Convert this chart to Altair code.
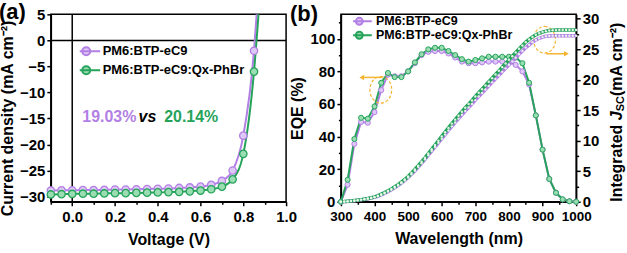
import altair as alt
import pandas as pd

SERIES = ["PM6:BTP-eC9", "PM6:BTP-eC9:Qx-PhBr"]
LINE_COLORS = ["#B27FE4", "#26A35B"]
FILL_COLORS = ["#DEC8F6", "#9ADDB3"]
ANNOT = "#F4B530"
FONT = "Liberation Sans"

# ---------------- (a) J-V data ----------------
volt = [-0.1, -0.05, 0.0, 0.05, 0.1, 0.15, 0.2, 0.25, 0.3, 0.35,
        0.4, 0.45, 0.5, 0.55, 0.6, 0.65, 0.7, 0.75, 0.8, 0.85]
j_ref = [-28.85, -28.8, -28.8, -28.75, -28.75, -28.7, -28.65, -28.65, -28.6, -28.55,
         -28.5, -28.45, -28.35, -28.25, -28.1, -27.75, -27.0, -25.0, -18.3, -2.0]
j_qx = [-29.6, -29.55, -29.5, -29.45, -29.45, -29.4, -29.35, -29.35, -29.3, -29.25,
        -29.2, -29.15, -29.1, -29.0, -28.85, -28.6, -28.1, -26.7, -21.8, -6.0]
tail_volt = [0.865, 0.874]
tail_j = [6.5, 6.6]

eff_text = ["19.03%", "vs", "20.14%"]
eff_x = [0.047, 0.31, 0.43]
eff_y = [-14.8, -14.8, -14.8]

# ---------------- (b) EQE data ----------------
wl_eqe = [300, 320, 340, 360, 380, 400, 420, 440, 460, 480, 500, 520, 540, 560, 580, 600,
          620, 640, 660, 680, 700, 720, 740, 760, 780, 800, 820, 840, 860, 880, 900, 920,
          940, 960, 980, 1000]
eqe_ref = [0, 10.5, 35.5, 49, 48.5, 55, 68.5, 78, 77, 77, 80, 85, 90, 92, 92.5, 92.5,
           91, 88.5, 86, 85, 85, 85.5, 86, 86, 86, 85.5, 84, 80, 72, 53, 32, 14,
           5.5, 1.4, 0.3, 0]
eqe_qx = [0, 13.5, 38.5, 51.5, 51, 58.5, 73, 79, 76.5, 76.5, 80, 85.5, 90.5, 93.5, 94.5, 94.5,
          92.5, 90, 87.5, 86, 87, 88, 89, 89, 89, 89, 88.5, 85, 73, 53, 32, 14,
          5.5, 1.5, 0.3, 0]

wl_int = [300, 310, 320, 330, 340, 350, 360, 370, 380, 390,
          400, 410, 420, 430, 440, 450, 460, 470, 480, 490,
          500, 510, 520, 530, 540, 550, 560, 570, 580, 590,
          600, 610, 620, 630, 640, 650, 660, 670, 680, 690,
          700, 710, 720, 730, 740, 750, 760, 770, 780, 790,
          800, 810, 820, 830, 840, 850, 860, 870, 880, 890,
          900, 910, 920, 930, 940, 950, 960, 970, 980, 990, 1000]
jsc_ref = [0, 0.02, 0.06, 0.11, 0.17, 0.23, 0.31, 0.39, 0.48, 0.59,
           0.72, 0.9, 1.12, 1.37, 1.66, 1.96, 2.3, 2.65, 3.05, 3.5,
           3.98, 4.5, 5.08, 5.68, 6.3, 6.95, 7.62, 8.3, 8.98, 9.66,
           10.33, 11.0, 11.67, 12.35, 13.0, 13.62, 14.25, 14.87, 15.45, 16.03,
           16.65, 17.23, 17.82, 18.4, 18.98, 19.56, 20.13, 20.7, 21.28, 21.85,
           22.43, 23.0, 23.58, 24.15, 24.7, 25.25, 25.7, 26.15, 26.5, 26.78,
           26.97, 27.1, 27.17, 27.2, 27.2, 27.2, 27.2, 27.2, 27.2, 27.2, 27.2]
jsc_qx = [0, 0.03, 0.08, 0.14, 0.2, 0.27, 0.35, 0.44, 0.54, 0.66,
          0.8, 1.0, 1.25, 1.5, 1.8, 2.1, 2.45, 2.8, 3.2, 3.65,
          4.15, 4.7, 5.3, 5.9, 6.55, 7.2, 7.9, 8.6, 9.3, 10.0,
          10.7, 11.4, 12.1, 12.8, 13.45, 14.1, 14.75, 15.4, 16.0, 16.6,
          17.25, 17.85, 18.45, 19.05, 19.65, 20.25, 20.85, 21.45, 22.05, 22.65,
          23.25, 23.85, 24.45, 25.05, 25.6, 26.15, 26.6, 27.0, 27.35, 27.6,
          27.8, 27.95, 28.05, 28.1, 28.12, 28.13, 28.13, 28.13, 28.13, 28.13, 28.13]

# annotation marks (dashed ellipses + arrows)
ell_wl = [418.7, 906.0]
ell_eqe = [68.7, 99.4]
arr_from = [424, 911]
arr_to = [362, 971]
arr_eqe = [76.3, 90.8]
arr_dir = ["left", "right"]


def series_df(x, ys, xname, yname):
    rows = []
    for s, y in zip(SERIES, ys):
        for xi, yi in zip(x, y):
            rows.append({xname: xi, yname: yi, "series": s})
    return pd.DataFrame(rows)


df_jv = series_df(volt, [j_ref, j_qx], "volt", "j")
df_jv_line = pd.concat([df_jv, pd.DataFrame({"volt": tail_volt, "j": tail_j, "series": SERIES})],
                       ignore_index=True)
df_eqe = series_df(wl_eqe, [eqe_ref, eqe_qx], "wl", "eqe")
df_int = series_df(wl_int, [jsc_ref, jsc_qx], "wl", "jsc")

stroke_scale = alt.Scale(domain=SERIES, range=LINE_COLORS)
fill_scale = alt.Scale(domain=SERIES, range=FILL_COLORS)
# legend symbols: line + circle, drawn with a small nominal size (scale = 5 px / unit)
SYM_A = "M-2.8,0L2.8,0M0.8,0A0.8,0.8 0 1,1 -0.8,0A0.8,0.8 0 1,1 0.8,0Z"
SYM_B = "M-2.5,0L2.5,0M0.7,0A0.7,0.7 0 1,1 -0.7,0A0.7,0.7 0 1,1 0.7,0Z"
ELL = "M0,-1A0.82,1 0 1,1 0,1A0.82,1 0 1,1 0,-1Z"


def legend(sym, lx, ly, clip_h, fs, loff):
    return alt.Legend(title=None, orient="none", legendX=lx, legendY=ly,
                      symbolType=sym, symbolSize=100, symbolStrokeWidth=2,
                      rowPadding=0, clipHeight=clip_h, labelFontSize=fs, labelFontWeight="bold",
                      labelFont=FONT, labelColor="black", labelOffset=loff, padding=0)


def minor(test):
    return {"condition": {"test": test, "value": 4}, "value": 2.5}


# ---------------- panel (a) ----------------
leg_a = legend(SYM_A, 29, 27.5, 19, 13, 10)
xa = alt.X("volt:Q", scale=alt.Scale(domain=[-0.1, 1.0], nice=False, zero=False),
           axis=alt.Axis(title="Voltage (V)",
                         values=[-0.1, 0.0, 0.1, 0.2, 0.3, 0.4, 0.5, 0.6, 0.7, 0.8, 0.9, 1.0],
                         labelExpr="abs(round(datum.value*10)) % 2 == 0 ? format(datum.value, '.1f') : ''",
                         tickSize=minor("abs(round(datum.value*10)) % 2 == 0"),
                         labelPadding=4, titlePadding=7))
ya = alt.Y("j:Q", scale=alt.Scale(domain=[-31, 5], nice=False, zero=False),
           axis=alt.Axis(title="Current density (mA cm\u207b\u00b2)",
                         values=[-30, -25, -20, -15, -10, -5, 0, 5], format="d",
                         tickSize=4, labelPadding=2, titlePadding=4, titleY=104))

rule_v = alt.Chart(pd.DataFrame({"volt": [0.0]})).mark_rule(color="black", strokeWidth=1.5).encode(x=xa)
rule_j = alt.Chart(pd.DataFrame({"j": [0.0]})).mark_rule(color="black", strokeWidth=1.5).encode(y=ya)

jv_line = alt.Chart(df_jv_line).mark_line(strokeWidth=2, clip=True, interpolate="monotone").encode(
    x=xa, y=ya, stroke=alt.Stroke("series:N", scale=stroke_scale, legend=leg_a))
jv_pts = alt.Chart(df_jv).mark_point(filled=True, size=55, strokeWidth=1.3, opacity=1).encode(
    x=xa, y=ya,
    stroke=alt.Stroke("series:N", scale=stroke_scale, legend=leg_a),
    fill=alt.Fill("series:N", scale=fill_scale, legend=leg_a))

df_eff = pd.DataFrame({"volt": eff_x, "j": eff_y, "label": eff_text})
eff_colors = [LINE_COLORS[0], "black", LINE_COLORS[1]]
eff_styles = ["normal", "italic", "normal"]
eff_layers = []
for i in range(3):
    eff_layers.append(
        alt.Chart(df_eff.iloc[[i]]).mark_text(align="left", baseline="middle", fontSize=16,
                                               fontWeight="bold", fontStyle=eff_styles[i],
                                               color=eff_colors[i], font=FONT)
        .encode(x=xa, y=ya, text="label:N"))

lab_a = alt.Chart(pd.DataFrame({"t": ["(a)"]})).mark_text(
    fontSize=22, fontWeight="bold", font=FONT, align="center", baseline="middle", color="black"
).encode(x=alt.value(-38.6), y=alt.value(-2), text="t:N")

panel_a = alt.layer(rule_v, rule_j, jv_line, jv_pts, *eff_layers, lab_a).properties(width=236, height=188)

# ---------------- panel (b) ----------------
leg_b = legend(SYM_B, 12.2, 0.25, 13.5, 12.5, 10.5)
xb = alt.X("wl:Q", scale=alt.Scale(domain=[300, 1000], nice=False, zero=False),
           axis=alt.Axis(title="Wavelength (nm)", values=list(range(300, 1001, 50)),
                         labelExpr="datum.value % 100 == 0 ? format(datum.value, 'd') : ''",
                         tickSize=minor("datum.value % 100 == 0"), labelFontSize=13.5,
                         labelPadding=4, titlePadding=7))
yb = alt.Y("eqe:Q", scale=alt.Scale(domain=[0, 115], nice=False),
           axis=alt.Axis(title="EQE (%)", values=list(range(0, 111, 10)),
                         labelExpr="datum.value % 20 == 0 ? format(datum.value, 'd') : ''",
                         tickSize=minor("datum.value % 20 == 0"), labelPadding=2, titlePadding=5))
yr = alt.Y("jsc:Q", scale=alt.Scale(domain=[0, 30.7], nice=False),
           axis=alt.Axis(orient="right", title=None,
                         values=[0, 2.5, 5, 7.5, 10, 12.5, 15, 17.5, 20, 22.5, 25, 27.5, 30],
                         labelExpr="datum.value % 5 == 0 ? format(datum.value, 'd') : ''",
                         tickSize=minor("datum.value % 5 == 0"), labelPadding=2))

eqe_line = alt.Chart(df_eqe).mark_line(strokeWidth=2).encode(
    x=xb, y=yb, stroke=alt.Stroke("series:N", scale=stroke_scale, legend=leg_b))
eqe_pts = alt.Chart(df_eqe).mark_point(filled=True, size=26, strokeWidth=1, opacity=1).encode(
    x=xb, y=yb,
    stroke=alt.Stroke("series:N", scale=stroke_scale, legend=leg_b),
    fill=alt.Fill("series:N", scale=fill_scale, legend=leg_b))

ell = alt.Chart(pd.DataFrame({"wl": ell_wl, "eqe": ell_eqe})).mark_point(
    shape=ELL, size=713, filled=False, color=ANNOT, strokeWidth=1.2, strokeDash=[3, 2], opacity=1
).encode(x=xb, y=yb)
arrows = alt.Chart(pd.DataFrame({"wl": arr_from, "wl2": arr_to, "eqe": arr_eqe})).mark_rule(
    color=ANNOT, strokeWidth=1.5).encode(x=xb, x2="wl2:Q", y=yb)
heads = alt.Chart(pd.DataFrame({"wl": arr_to, "eqe": arr_eqe, "dir": arr_dir})).mark_point(
    filled=True, size=30, color=ANNOT, opacity=1).encode(
    x=xb, y=yb,
    shape=alt.Shape("dir:N", scale=alt.Scale(domain=["left", "right"],
                                             range=["triangle-left", "triangle-right"]), legend=None))

lab_b = alt.Chart(pd.DataFrame({"t": ["(b)"]})).mark_text(
    fontSize=22, fontWeight="bold", font=FONT, align="center", baseline="middle", color="black"
).encode(x=alt.value(-37), y=alt.value(0), text="t:N")

# right axis title with italic J and subscript SC
title_parts = ["Integrated ", "J", "SC", " (mA cm\u207b\u00b2)"]
title_sizes = [16, 16, 11, 16]
title_styles = ["normal", "italic", "normal", "normal"]
title_x = [277, 277, 281, 277]
title_y = [188, 106.2, 97.3, 82.0]
title_layers = []
for i in range(4):
    title_layers.append(
        alt.Chart(pd.DataFrame({"t": [title_parts[i]]})).mark_text(
            angle=270, align="left", baseline="middle", fontSize=title_sizes[i],
            fontWeight="bold", fontStyle=title_styles[i], font=FONT, color="black"
        ).encode(x=alt.value(title_x[i]), y=alt.value(title_y[i]), text="t:N"))

int_line = alt.Chart(df_int).mark_line(strokeWidth=3.5).encode(
    x=xb, y=yr, stroke=alt.Stroke("series:N", scale=stroke_scale, legend=leg_b))
int_pts = alt.Chart(df_int).mark_point(filled=True, size=6, fill="#EAF7EE", opacity=0.95,
                                       strokeWidth=0).encode(x=xb, y=yr)

eqe_group = alt.layer(eqe_line, eqe_pts, ell, arrows, heads, lab_b, *title_layers)
int_group = alt.layer(int_line, int_pts)
panel_b = alt.layer(eqe_group, int_group).resolve_scale(y="independent").properties(width=236, height=188)

chart = alt.hconcat(panel_a, panel_b, spacing=55, bounds="flush").resolve_scale(
    stroke="independent", fill="independent"
).resolve_legend(stroke="independent", fill="independent").properties(
    padding={"left": -2, "top": 0, "right": 0, "bottom": 0}
).configure(font=FONT).configure_axis(
    labelFont=FONT, labelFontSize=15, labelFontWeight="bold", labelColor="black",
    titleFont=FONT, titleFontSize=16, titleFontWeight="bold", titleColor="black",
    domainColor="black", domainWidth=1.5, tickColor="black", tickWidth=1.5, grid=False,
    labelFlush=False, labelOverlap=False
).configure_view(stroke="black", strokeWidth=1.5)

chart.save("out.html", embed_options={"renderer": "svg", "actions": False})
